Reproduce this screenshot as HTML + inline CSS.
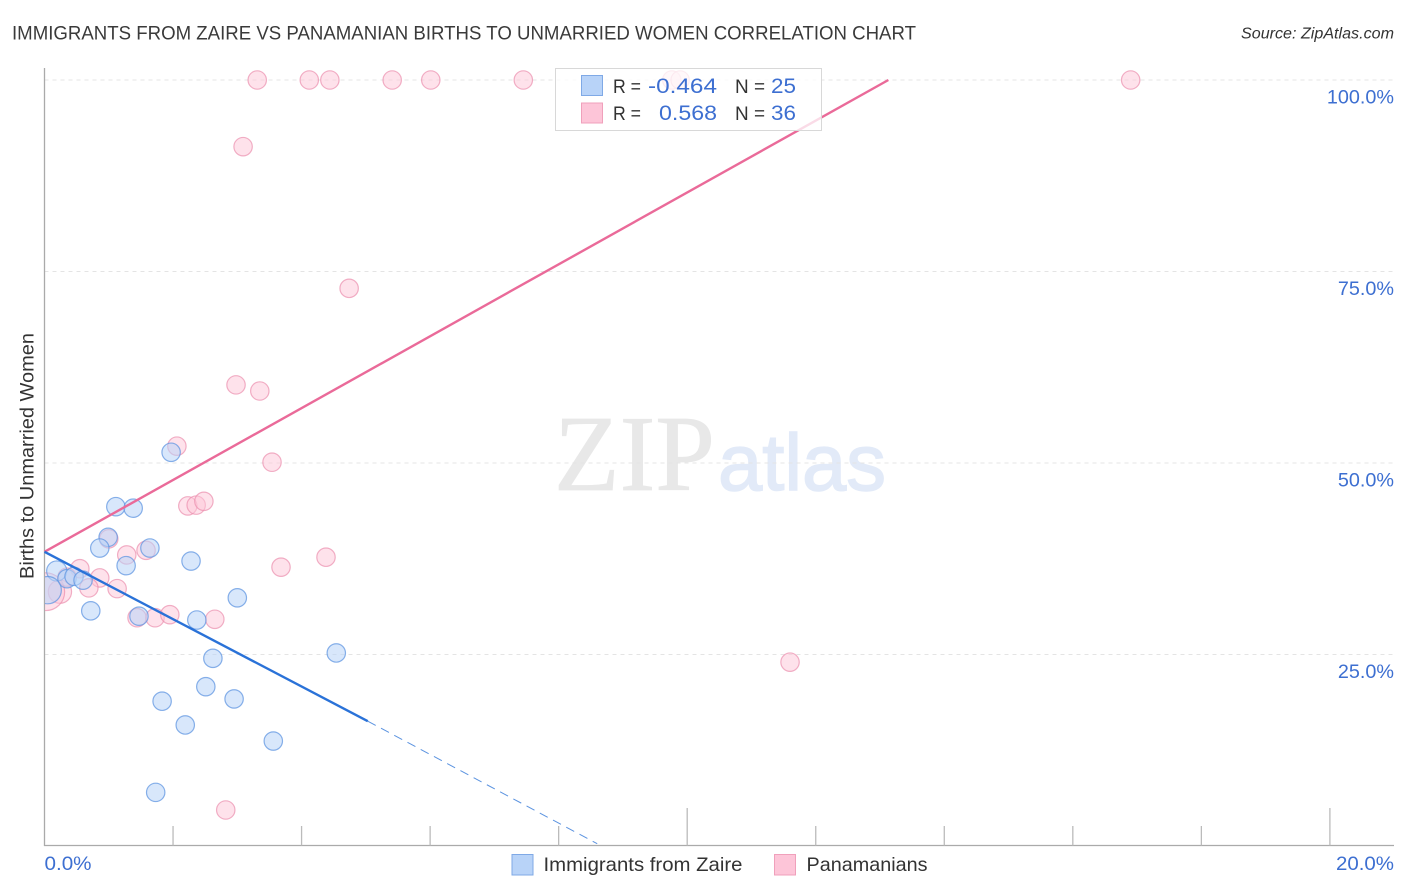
<!DOCTYPE html>
<html lang="en">
<head>
<meta charset="utf-8">
<title>Immigrants from Zaire vs Panamanian Births to Unmarried Women Correlation Chart</title>
<style>
html,body{margin:0;padding:0;background:#fff;}
svg{display:block;font-family:"Liberation Sans",sans-serif;}
</style>
</head>
<body>
<svg id="chart" width="1406" height="892" viewBox="0 0 1406 892" xmlns="http://www.w3.org/2000/svg">
  <rect width="1406" height="892" fill="#ffffff"/>
  <text x="12" y="39.5" font-size="19.5" fill="#3a3a3a" textLength="904" lengthAdjust="spacingAndGlyphs">IMMIGRANTS FROM ZAIRE VS PANAMANIAN BIRTHS TO UNMARRIED WOMEN CORRELATION CHART</text>
  <text x="1241" y="38.5" font-size="15.5" font-style="italic" fill="#333" textLength="153" lengthAdjust="spacingAndGlyphs">Source: ZipAtlas.com</text>
  <g>
    <text x="554" y="490" font-family="'Liberation Serif',serif" font-size="108" fill="#e8e8e8" stroke="#e8e8e8" stroke-width="0.8" textLength="161" lengthAdjust="spacingAndGlyphs">ZIP</text>
    <text x="718" y="490" font-size="80" fill="#e2eaf8" stroke="#e2eaf8" stroke-width="1.5" textLength="168" lengthAdjust="spacingAndGlyphs">atlas</text>
  </g>
  <g id="grid"></g>
  <g id="axes"></g>
  <clipPath id="plot-clip"><rect x="45" y="40" width="1349" height="806"/></clipPath>
  <g id="pink-points" clip-path="url(#plot-clip)"></g>
  <g id="blue-points" clip-path="url(#plot-clip)"></g>
  <g id="lines"></g>
  <text transform="translate(33.5,456) rotate(-90)" font-size="19" fill="#333" text-anchor="middle" textLength="246" lengthAdjust="spacingAndGlyphs">Births to Unmarried Women</text>
  <g id="tick-labels"></g>

  <g>
    <rect x="555.5" y="68.5" width="266" height="62" fill="#ffffff" fill-opacity="0.76" stroke="#d8d8d8" stroke-width="1"/>
    <rect x="581.5" y="75.5" width="21" height="20" fill="#b8d3f8" stroke="#7fa9e6" stroke-width="1"/>
    <rect x="581.5" y="103" width="21" height="20" fill="#fdc5d8" stroke="#f0a0bb" stroke-width="1"/>
    <text x="613" y="93" font-size="19.5" fill="#333" textLength="28" lengthAdjust="spacingAndGlyphs">R =</text>
    <text x="648" y="93" font-size="21.5" fill="#3d6fd1" textLength="69" lengthAdjust="spacingAndGlyphs">-0.464</text>
    <text x="735" y="93" font-size="19.5" fill="#333" textLength="30" lengthAdjust="spacingAndGlyphs">N =</text>
    <text x="771" y="93" font-size="21.5" fill="#3d6fd1" textLength="25" lengthAdjust="spacingAndGlyphs">25</text>
    <text x="613" y="120" font-size="19.5" fill="#333" textLength="28" lengthAdjust="spacingAndGlyphs">R =</text>
    <text x="659" y="120" font-size="21.5" fill="#3d6fd1" textLength="58" lengthAdjust="spacingAndGlyphs">0.568</text>
    <text x="735" y="120" font-size="19.5" fill="#333" textLength="30" lengthAdjust="spacingAndGlyphs">N =</text>
    <text x="771" y="120" font-size="21.5" fill="#3d6fd1" textLength="25" lengthAdjust="spacingAndGlyphs">36</text>
  </g>

  <g>
    <rect x="512" y="854.5" width="21" height="20.5" fill="#b8d3f8" stroke="#7fa9e6" stroke-width="1"/>
    <text x="543.5" y="871" font-size="19.5" fill="#333" textLength="199" lengthAdjust="spacingAndGlyphs">Immigrants from Zaire</text>
    <rect x="774.5" y="854.5" width="21" height="20.5" fill="#fdc5d8" stroke="#f0a0bb" stroke-width="1"/>
    <text x="806.5" y="871" font-size="19.5" fill="#333" textLength="121" lengthAdjust="spacingAndGlyphs">Panamanians</text>
  </g>
</svg>
<script>
// Chart data (x = percent Immigrants from Zaire / Panamanians, y = births to unmarried women %)
const blueX = [1.97,1.11,1.38,0.99,0.86,1.64,1.27,2.28,0.19,0.35,0.46,0.60,3.00,0.72,1.47,2.37,2.62,4.54,2.51,1.83,2.95,2.19,3.56,1.73,0.05];
const blueY = [51.4,44.3,44.1,40.3,38.9,38.9,36.6,37.2,35.9,34.9,35.2,34.7,32.4,30.7,30.0,29.5,24.5,25.2,20.8,18.9,19.2,15.8,13.7,7.0,33.4];
const blueCounts = [1,1,1,1,1,1,1,1,1.2,1,1,1,1,1,1,1,1,1,1,1,1,1,1,1,2.2];
const pinkX = [3.31,4.12,4.44,5.41,6.01,7.45,9.76,9.89,16.9,3.09,4.74,2.98,3.35,3.54,2.06,2.23,2.36,2.48,1.00,1.58,1.28,4.38,3.68,0.55,0.86,0.69,1.13,0.24,0.02,0.35,1.44,1.72,1.95,2.65,11.6,2.82];
const pinkY = [100,100,100,100,100,100,100,100,100,91.3,72.8,60.2,59.4,50.1,52.2,44.4,44.5,45.0,40.1,38.6,38.0,37.7,36.4,36.2,35.0,33.7,33.6,33.2,33.2,35.1,29.8,29.8,30.2,29.6,24.0,4.7];
const pinkCounts = [1,1,1,1,1,1,1,1,1,1,1,1,1,1,1,1,1,1,1,1,1,1,1,1,1,1,1,1.6,4.2,1,1,1,1,1,1,1];
const pinkTrendX = [0,13.13];
const pinkTrendY = [38.4,100];
const blueTrendX = [0,5.03];
const blueTrendY = [38.4,16.3];
const blueTrendDashedX = [5.03,8.6];
const blueTrendDashedY = [16.3,0.3];
const yTicks = [25,50,75,100];
const yTickLabels = ['25.0%','50.0%','75.0%','100.0%'];
const xTicks = [2,4,6,8,10,12,14,16,18,20];
const xMajorTicks = [10,20];
const xEndLabels = ['0.0%','20.0%'];

const NS = 'http://www.w3.org/2000/svg';
function xScale(v){ return 44.5 + v * 64.27; }
function yScale(v){ return 846 - v * 7.66; }
function rScale(c){ return 9.2 * Math.sqrt(c); }
function mk(tag, parent, attrs){
  const el = document.createElementNS(NS, tag);
  for (const k in attrs) el.setAttribute(k, attrs[k]);
  document.getElementById(parent).appendChild(el);
  return el;
}

// gridlines
yTicks.forEach(function(t){
  const el = mk('line','grid',{x1:44.5,x2:1394,y1:yScale(t),y2:yScale(t),stroke:'#e4e4e4','stroke-width':1,'stroke-dasharray':'4 4'});
  
  
});

// axes
const yAxisLine = mk('line','axes',{x1:44.5,x2:44.5,y1:68,y2:846,stroke:'#aaaaaa','stroke-width':1.3});


const xAxisLine = mk('line','axes',{x1:44,x2:1394,y1:845.5,y2:845.5,stroke:'#aaaaaa','stroke-width':1.3});


xTicks.forEach(function(t){
  const major = xMajorTicks.indexOf(t) >= 0;
  const el = mk('line','axes',{x1:xScale(t),x2:xScale(t),y1:major?808:826,y2:845.5,stroke:'#bbbbbb','stroke-width':1.3});
  
  
});

// points
pinkX.forEach(function(v,i){
  const el = mk('circle','pink-points',{cx:xScale(v),cy:yScale(pinkY[i]),r:rScale(pinkCounts[i]),fill:'#fdc5d8','fill-opacity':0.5,stroke:'#eb8fae','stroke-opacity':0.7,'stroke-width':1.2});
  
  
});
blueX.forEach(function(v,i){
  const el = mk('circle','blue-points',{cx:xScale(v),cy:yScale(blueY[i]),r:rScale(blueCounts[i]),fill:'#b8d3f8','fill-opacity':0.55,stroke:'#5b93e0','stroke-opacity':0.72,'stroke-width':1.2});
  
  
});

// trend lines
const pinkLine = mk('line','lines',{x1:xScale(pinkTrendX[0]),y1:yScale(pinkTrendY[0]),x2:xScale(pinkTrendX[1]),y2:yScale(pinkTrendY[1]),stroke:'#ea6a99','stroke-width':2.4});


const blueLine = mk('line','lines',{x1:xScale(blueTrendX[0]),y1:yScale(blueTrendY[0]),x2:xScale(blueTrendX[1]),y2:yScale(blueTrendY[1]),stroke:'#2a72d8','stroke-width':2.4});


const blueDash = mk('line','lines',{x1:xScale(blueTrendDashedX[0]),y1:yScale(blueTrendDashedY[0]),x2:xScale(blueTrendDashedX[1]),y2:yScale(blueTrendDashedY[1]),stroke:'#5b93e0','stroke-width':1,'stroke-dasharray':'9 6'});



// tick labels
yTicks.forEach(function(t,i){
  const el = mk('text','tick-labels',{x:1394,y:yScale(t)+23.5,'font-size':19.8,fill:'#3d6fd1','text-anchor':'end'});
  el.textContent = yTickLabels[i];
  
  
});
const xLabelStart = mk('text','tick-labels',{x:xScale(0),y:870,'font-size':19.8,fill:'#3d6fd1',textLength:47,lengthAdjust:'spacingAndGlyphs'});
xLabelStart.textContent = xEndLabels[0];


const xLabelEnd = mk('text','tick-labels',{x:1336,y:870,'font-size':19.8,fill:'#3d6fd1',textLength:58,lengthAdjust:'spacingAndGlyphs'});
xLabelEnd.textContent = xEndLabels[1];


</script>
</body>
</html>
